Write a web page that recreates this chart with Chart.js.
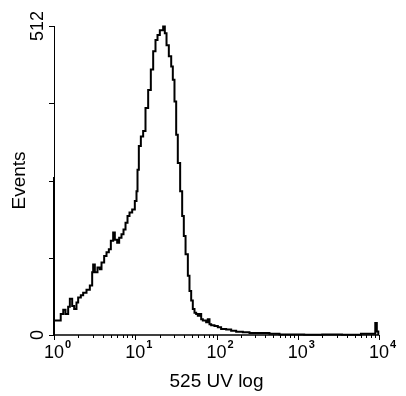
<!DOCTYPE html>
<html><head><meta charset="utf-8">
<script src="https://cdn.jsdelivr.net/npm/chart.js@4/dist/chart.umd.min.js"></script>
<style>html,body{margin:0;padding:0;background:#fff;}#wrap{width:406px;height:396px;}</style>
</head><body><div id="wrap"><canvas id="c" width="406" height="396"></canvas></div>
<script>
// channel start positions (fluorescence, log axis) and event counts
const channelX = [1, 1, 1, 1.21, 1.30, 1.385, 1.494, 1.567, 1.674, 1.771, 1.891, 1.983, 2.139, 2.286, 2.512, 2.761, 2.95, 3.034, 3.181, 3.43, 3.665, 3.843, 4.143, 4.429, 4.73, 5.006, 5.348, 5.608, 5.99, 6.34, 6.77, 7.17, 7.59, 8.03, 8.50, 9.17, 9.88, 10.36, 10.66, 11.07, 11.72, 12.51, 13.37, 14.42, 15.55, 16.62, 17.75, 18.79, 20.07, 22.06, 23.12, 24.26, 25.9, 27.7, 29.0, 30.4, 31.9, 33.4, 35.7, 37.8, 39.6, 41.6, 44.4, 46.5, 48.8, 51.1, 53.6, 56.2, 58.9, 61.8, 64.8, 67.9, 74.6, 78.2, 82, 86, 94.4, 103.8, 114, 131.5, 151.5, 174.6, 211, 254.7, 338, 449, 596, 800, 1200, 2000, 3500, 6000, 9000, 9400, 9800, 10000];
const eventCounts = [0, 262, 24, 35, 42, 35, 47, 60, 48, 43, 54, 62, 66, 70, 75, 82, 104, 117, 104, 112, 109, 120, 131, 137, 142, 156, 170, 158, 153, 161, 167, 175, 186, 197, 203, 208, 222, 238, 274, 313, 329, 338, 376, 406, 440, 470, 489, 497, 505, 511, 500, 480, 462, 445, 423, 387, 332, 285, 238, 197, 164, 134, 98, 73, 57, 43, 37, 35, 32, 35, 26, 24, 21, 26, 18, 16, 15, 13, 10, 9, 7, 5.5, 4.4, 3.3, 3.3, 2.2, 1, 1, 0.5, 1, 0.5, 2, 20, 6, 0];
const xTickExponents = [0, 1, 2, 3, 4];
const yTickValues = [0, 128, 256, 384, 512];
const yTickLabels = ['0', '', '', '', '512'];
const xTitle = '525 UV log';
const yTitle = 'Events';

const FONT = '"Liberation Sans", Arial, sans-serif';

const axesPlugin = {
  id: 'axesDraw',
  afterDatasetsDraw(chart) {
    const ctx = chart.ctx, xs = chart.scales.x, ys = chart.scales.y, a = chart.chartArea;
    ctx.save();
    ctx.strokeStyle = '#000';
    ctx.fillStyle = '#000';
    // axis lines
    ctx.lineWidth = 1;
    ctx.beginPath();
    ctx.moveTo(a.left + 0.5, a.top);
    ctx.lineTo(a.left + 0.5, a.bottom);
    ctx.stroke();
    ctx.lineWidth = 1.5;
    ctx.beginPath();
    ctx.moveTo(a.left, a.bottom);
    ctx.lineTo(a.right, a.bottom);
    ctx.stroke();
    // y ticks
    ctx.lineWidth = 1;
    yTickValues.forEach((v) => {
      const y = Math.round(ys.getPixelForValue(v)) + 0.5;
      ctx.beginPath();
      ctx.moveTo(a.left - 5, y);
      ctx.lineTo(a.left, y);
      ctx.stroke();
    });
    // x ticks (major + minor)
    xTickExponents.forEach((e, i) => {
      const base = Math.pow(10, e);
      const px = Math.round(xs.getPixelForValue(base)) + 0.5;
      ctx.beginPath();
      ctx.moveTo(px, a.bottom);
      ctx.lineTo(px, a.bottom + 5);
      ctx.stroke();
      if (i < xTickExponents.length - 1) {
        for (let m = 2; m <= 9; m++) {
          const mx = Math.round(xs.getPixelForValue(base * m)) + 0.5;
          ctx.beginPath();
          ctx.moveTo(mx, a.bottom);
          ctx.lineTo(mx, a.bottom + 3);
          ctx.stroke();
        }
      }
    });
    // x tick labels: 10 with superscript exponent
    xTickExponents.forEach((e) => {
      const px = xs.getPixelForValue(Math.pow(10, e));
      ctx.font = '18px ' + FONT;
      ctx.textAlign = 'center';
      ctx.textBaseline = 'alphabetic';
      ctx.fillText('10', px, 358);
      const w = ctx.measureText('10').width;
      ctx.font = 'bold 11px ' + FONT;
      ctx.textAlign = 'left';
      ctx.fillText(String(e), px + w / 2 + 1, 348);
    });
    // y tick labels, rotated
    ctx.font = '18px ' + FONT;
    yTickValues.forEach((v, i) => {
      if (!yTickLabels[i]) return;
      const y = ys.getPixelForValue(v);
      ctx.save();
      ctx.translate(43, y);
      ctx.rotate(-Math.PI / 2);
      ctx.textAlign = 'center';
      ctx.textBaseline = 'alphabetic';
      ctx.fillText(yTickLabels[i], 0, 0);
      ctx.restore();
    });
    // titles
    ctx.font = '19px ' + FONT;
    ctx.textAlign = 'center';
    ctx.textBaseline = 'alphabetic';
    ctx.fillText(xTitle, (a.left + a.right) / 2, 387);
    ctx.save();
    ctx.translate(25, (a.top + a.bottom) / 2);
    ctx.rotate(-Math.PI / 2);
    ctx.fillText(yTitle, 0, 0);
    ctx.restore();
    ctx.restore();
  }
};

const points = channelX.map((x, i) => ({ x: x, y: eventCounts[i] }));

new Chart(document.getElementById('c'), {
  type: 'line',
  data: {
    datasets: [{
      data: points,
      borderColor: '#000',
      borderWidth: 2,
      pointRadius: 0,
      stepped: true,
      tension: 0,
      fill: false,
      clip: false
    }]
  },
  options: {
    responsive: false,
    animation: false,
    devicePixelRatio: 1,
    layout: { padding: { left: 54, top: 26, right: 27, bottom: 61 } },
    plugins: { legend: { display: false }, tooltip: { enabled: false } },
    scales: {
      x: { type: 'logarithmic', min: 1, max: 10000, display: false },
      y: { type: 'linear', min: 0, max: 512, display: false }
    }
  },
  plugins: [axesPlugin]
});
</script>
</body></html>
